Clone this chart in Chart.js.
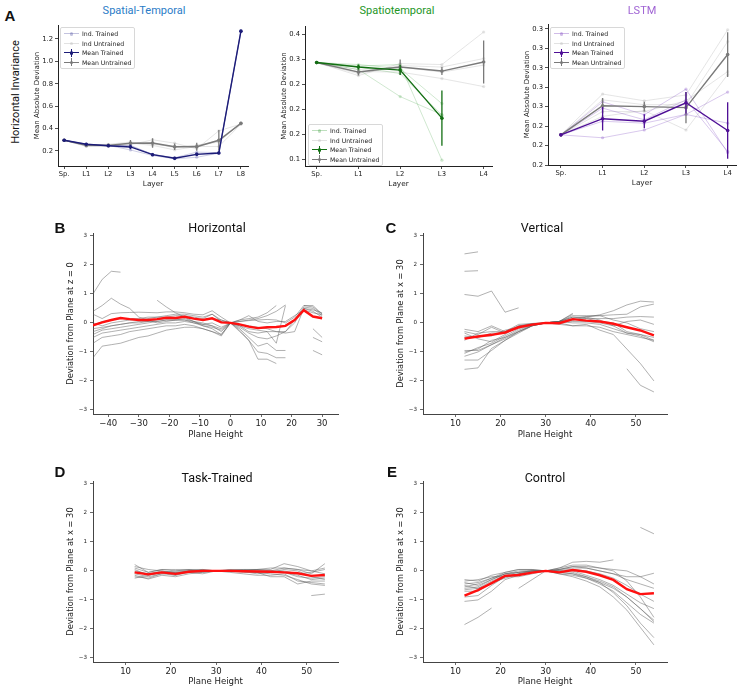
<!DOCTYPE html>
<html>
<head>
<meta charset="utf-8">
<script src="https://cdn.jsdelivr.net/npm/chart.js@4.4.0/dist/chart.umd.min.js"></script>
<style>
  body { margin: 0; background: #fff; }
  #page { position: relative; width: 744px; height: 693px; overflow: hidden; background: #fff; }
  canvas { position: absolute; }
  .txt { position: absolute; white-space: nowrap; transform: translate(-50%, -50%); font-family: Roboto, "DejaVu Sans", sans-serif; color: #111; }
  .letter { font-weight: 700; font-size: 15px; font-family: "Liberation Sans", Roboto, sans-serif; }
  .title { font-size: 12.5px; }
  .legend { position: absolute; border: 1px solid #d8d8d8; border-radius: 2px; background: rgba(255,255,255,0.85); padding: 1px 3px 1px 2px; font-family: "DejaVu Sans", sans-serif; font-size: 6.2px; color: #222; }
  .legend .row { position: relative; height: 9.6px; line-height: 9.6px; padding-left: 19px; }
  .legend .sw { position: absolute; left: 1px; top: 0; width: 15px; height: 9.6px; }
  .legend .ln { position: absolute; left: 0; right: 0; top: 4.3px; height: 0; border-top: 1.3px solid; }
  .legend .dt { position: absolute; left: 5.7px; top: 3px; width: 3.6px; height: 3.6px; border-radius: 50%; }
  .legend .eb { position: absolute; left: 7px; top: 0.5px; width: 0; height: 8px; border-left: 1.3px solid; }
</style>
</head>
<body>
<div id="page">
  <canvas id="a1"></canvas>
  <canvas id="a2"></canvas>
  <canvas id="a3"></canvas>
  <canvas id="pb"></canvas>
  <canvas id="pc"></canvas>
  <canvas id="pd"></canvas>
  <canvas id="pe"></canvas>

  <div class="txt letter" style="left:10px;top:15px;">A</div>
  <div class="txt" style="left:15px;top:92px;font-size:11px;transform:translate(-50%,-50%) rotate(-90deg);">Horizontal Invariance</div>
  <div class="txt title" style="left:144px;top:10px;font-size:11px;color:#2a7cc7;">Spatial-Temporal</div>
  <div class="txt title" style="left:397px;top:10px;font-size:11px;color:#23961f;">Spatiotemporal</div>
  <div class="txt title" style="left:642px;top:10px;font-size:11px;color:#a064d4;">LSTM</div>

  <div class="txt letter" style="left:60px;top:227px;">B</div>
  <div class="txt title" style="left:217px;top:227px;">Horizontal</div>
  <div class="txt letter" style="left:391px;top:227px;">C</div>
  <div class="txt title" style="left:542px;top:227px;">Vertical</div>
  <div class="txt letter" style="left:60px;top:471px;">D</div>
  <div class="txt title" style="left:217px;top:477px;">Task-Trained</div>
  <div class="txt letter" style="left:392px;top:471px;">E</div>
  <div class="txt title" style="left:545px;top:477px;">Control</div>
</div>
<script>
const _ = null;

// ---------- panel A: layer-wise mean absolute deviation ----------
const layersLong = ["Sp.", "L1", "L2", "L3", "L4", "L5", "L6", "L7", "L8"];
const layersShort = ["Sp.", "L1", "L2", "L3", "L4"];

// Spatial-Temporal
const stMeanTrained = [0.296, 0.26, 0.247, 0.236, 0.167, 0.135, 0.17, 0.182, 1.27];
const stErrTrained = [_, 0.01, 0.01, 0.02, 0.01, 0.01, 0.015, 0.008, _];
const stMeanUntrained = [0.296, 0.25, 0.25, 0.269, 0.271, 0.238, 0.238, 0.296, 0.447];
const stErrUntrained = [_, 0.012, 0.015, 0.03, 0.042, 0.03, 0.035, 0.092, _];
const stIndTrained = [
  [0.296, 0.255, 0.25, 0.209, 0.16, 0.13, 0.144, 0.18, 1.27],
  [0.296, 0.262, 0.245, 0.245, 0.17, 0.14, 0.19, 0.185, 1.27],
  [0.296, 0.26, 0.25, 0.25, 0.17, 0.135, 0.175, 0.18, 1.27],
];
const stIndUntrained = [
  [0.296, 0.24, 0.245, 0.255, 0.3, 0.27, 0.22, 0.38, 0.44],
  [0.296, 0.255, 0.26, 0.28, 0.26, 0.24, 0.25, 0.28, 0.45],
  [0.296, 0.25, 0.255, 0.27, 0.25, 0.21, 0.24, 0.24, 0.44],
  [0.296, 0.245, 0.24, 0.27, 0.27, 0.23, 0.25, 0.29, 0.45],
];
const stYTicks = [0.2, 0.4, 0.6, 0.8, 1.0, 1.2];
const stYLabels = ["0.2", "0.4", "0.6", "0.8", "1.0", "1.2"];

// Spatiotemporal
const spMeanTrained = [0.294, 0.285, 0.279, 0.183];
const spErrTrained = [_, 0.005, 0.01, 0.055];
const spMeanUntrained = [0.294, 0.275, 0.285, 0.277, 0.295];
const spErrUntrained = [_, 0.007, 0.015, 0.008, 0.043];
const spIndTrained = [
  [0.294, 0.29, 0.282, 0.212],
  [0.294, 0.285, 0.272, 0.189],
  [0.294, 0.28, 0.226, 0.19],
  [0.294, 0.287, 0.29, 0.099],
];
const spIndUntrained = [
  [0.294, 0.268, 0.292, 0.29, 0.355],
  [0.294, 0.272, 0.288, 0.285, 0.302],
  [0.294, 0.28, 0.285, 0.275, 0.289],
  [0.294, 0.276, 0.275, 0.262, 0.246],
];
const spYTicks = [0.10, 0.15, 0.20, 0.25, 0.30, 0.35];
const spYLabels = ["0.1", "0.2", "0.2", "0.2", "0.3", "0.4"];

// LSTM
const lsMeanTrained = [0.231, 0.2476, 0.245, 0.264, 0.2355];
const lsErrTrained = [_, 0.012, 0.0072, 0.011, 0.029];
const lsMeanUntrained = [0.231, 0.261, 0.26, 0.259, 0.3136];
const lsErrUntrained = [_, 0.008, 0.005, 0.016, 0.023];
const lsIndTrained = [
  [0.231, 0.265, 0.2517, 0.278, 0.2126],
  [0.231, 0.2585, 0.2465, 0.267, 0.214],
  [0.231, 0.245, 0.243, 0.252, 0.275],
  [0.231, 0.228, 0.236, 0.252, 0.243],
];
const lsIndUntrained = [
  [0.231, 0.273, 0.266, 0.272, 0.339],
  [0.231, 0.267, 0.262, 0.262, 0.327],
  [0.231, 0.255, 0.255, 0.266, 0.296],
  [0.231, 0.25, 0.256, 0.236, 0.293],
];
const lsYTicks = [0.20, 0.22, 0.24, 0.26, 0.28, 0.30, 0.32, 0.34];
const lsYLabels = ["0.2", "0.2", "0.2", "0.3", "0.3", "0.3", "0.3", "0.3"];

// ---------- panels B-E: deviation from reference plane ----------
const devTicks = [-3, -2, -1, 0, 1, 2, 3];

const hHeights = [-45, -42, -39, -36, -33, -30, -27, -24, -21, -18, -15, -12, -9, -6, -3, 0, 3, 6, 9, 12, 15, 18, 21, 24, 27, 30];
const hXTicks = [-40, -30, -20, -10, 0, 10, 20, 30];
const hMean = [-0.08, 0.02, 0.1, 0.17, 0.13, 0.1, 0.1, 0.13, 0.18, 0.17, 0.21, 0.15, 0.1, 0.16, 0.02, 0, -0.05, -0.13, -0.18, -0.15, -0.14, -0.1, 0.1, 0.44, 0.22, 0.16];
const hLines = [
  [1.0, 1.5, 1.78, 1.75, _, _, _, _, _, _, _, _, _, _, _, _, _, _, _, _, _, _, _, _, _, _],
  [0.3, 0.15, 0.32, 0.35, 0.36, 0.37, 0.36, 0.35, 0.38, 0.38, 0.35, 0.3, 0.28, 0.42, 0.2, 0, 0.05, 0.08, 0.1, 0.12, 0.1, 0.0, 0.2, 0.6, 0.6, 0.3],
  [0.4, 0.6, 0.85, 0.65, 0.5, 0.2, 0.1, 0.0, 0.05, 0.1, 0.15, 0.05, -0.05, 0.0, -0.15, 0, 0.1, 0.25, 0.05, 0.0, 0.05, 0.05, 0.25, 0.45, 0.35, 0.28],
  [_, _, _, _, _, _, _, 0.78, 0.55, 0.35, 0.2, 0.05, -0.1, -0.2, -0.4, 0, -0.3, -0.6, -1.25, -1.25, -1.4, _, _, _, _, _],
  [-1.2, -0.8, -0.75, -0.7, -0.6, -0.5, -0.45, -0.35, -0.25, -0.2, -0.15, -0.15, -0.2, -0.3, -0.4, 0, -0.2, -0.5, -0.8, -0.7, -0.95, -0.95, _, _, _, _],
  [-0.7, -0.5, -0.45, -0.4, -0.3, -0.25, -0.2, -0.15, -0.1, -0.1, -0.05, -0.1, -0.2, -0.3, -0.45, 0, -0.25, -0.6, -1.0, -1.05, -1.2, -1.2, _, _, _, _],
  [-0.4, -0.25, -0.2, -0.15, -0.1, -0.05, 0, 0.05, 0.1, 0.1, 0.1, 0.05, 0, -0.1, -0.2, 0, 0.1, 0.15, 0.2, 0.35, 0.6, _, _, _, _, _],
  [-0.2, -0.15, -0.1, -0.05, 0, 0.05, 0.05, 0.1, 0.15, 0.15, 0.2, 0.15, 0.1, 0.15, 0.1, 0, 0.05, 0.1, 0.15, 0.25, 0.4, 0.62, _, _, _, _],
  [0.0, -0.1, 0, 0.05, 0.1, 0.1, 0.15, 0.2, 0.2, 0.25, 0.25, 0.2, 0.15, 0.3, 0.1, 0, -0.05, -0.1, -0.15, -0.2, -0.3, -0.35, -0.3, 0.5, 0.45, 0.35],
  [-0.1, 0.05, 0.1, 0.15, 0.15, 0.15, 0.2, 0.2, 0.25, 0.3, 0.3, 0.25, 0.2, 0.3, 0.05, 0, -0.1, -0.2, -0.25, -0.3, -0.7, 0.6, _, 0.6, 0.55, 0.3],
  [-0.3, -0.2, -0.1, -0.05, 0.0, 0.0, 0.05, 0.05, 0.1, 0.1, 0.1, 0.0, -0.05, -0.1, -0.3, 0, -0.1, -0.3, -0.35, -0.3, -0.3, -0.3, 0.0, 0.5, 0.4, 0.2],
  [-0.5, -0.35, -0.3, -0.25, -0.2, -0.15, -0.1, -0.05, 0.0, 0.0, 0.05, 0.0, -0.1, -0.15, -0.25, 0, -0.15, -0.35, -0.5, -0.55, -0.45, -0.3, 0.1, 0.55, 0.5, 0.25],
  [_, _, _, _, _, _, _, _, _, _, _, _, _, _, _, _, _, _, _, _, _, _, _, _, -0.2, -0.5],
  [_, _, _, _, _, _, _, _, _, _, _, _, _, _, _, _, _, _, _, _, _, _, _, _, -0.5, -0.65],
  [_, _, _, _, _, _, _, _, _, _, _, _, _, _, _, _, _, _, _, _, _, _, _, _, -0.95, -1.1],
];

const vHeights = [12, 15, 18, 21, 24, 27, 30, 33, 36, 39, 42, 45, 48, 51, 54];
const vXTicks = [10, 20, 30, 40, 50];

const vMean = [-0.54, -0.47, -0.41, -0.33, -0.15, -0.06, 0, -0.01, 0.13, 0.08, 0.05, -0.03, -0.15, -0.26, -0.43];
const vLines = [
  [2.38, 2.45, _, _, _, _, _, _, _, _, _, _, _, _, _],
  [1.78, 1.8, _, _, _, _, _, _, _, _, _, _, _, _, _],
  [0.98, 0.92, 1.1, 0.37, 0.52, _, _, _, _, _, _, _, _, _, _],
  [-0.22, -0.3, -0.1, -0.3, -0.1, -0.05, 0, 0.05, 0.1, 0.2, 0.28, 0.42, 0.62, 0.75, 0.72],
  [-0.3, -0.4, -0.15, -0.35, -0.12, -0.05, 0, 0.05, 0.15, 0.22, 0.25, 0.28, 0.3, 0.55, 0.65],
  [-1.6, -1.55, -0.88, -0.6, -0.3, -0.1, 0, 0.0, -0.1, -0.05, -0.25, -0.4, -0.9, -1.4, -2.0],
  [_, _, _, _, _, _, _, _, _, _, _, _, -1.58, -2.15, -2.38],
  [-1.28, -1.28, -0.95, -0.6, -0.35, -0.1, 0, 0.05, 0.2, 0.2, 0.1, -0.1, -0.35, -0.45, -0.65],
  [-1.05, -0.85, -0.7, -0.45, -0.2, -0.08, 0, 0.05, 0.33, _, _, _, _, _, _],
  [-0.95, -0.95, -0.75, -0.5, -0.3, -0.1, 0, 0.05, 0.3, _, _, _, _, _, _],
  [-1.0, -0.9, -0.6, -0.5, -0.25, -0.08, 0, 0.05, 0.2, 0.15, 0.05, 0.0, -0.3, -0.4, -0.6],
  [-0.45, -0.5, -0.35, -0.35, -0.15, -0.05, 0, 0.0, 0.1, 0.15, 0.15, 0.15, 0.2, 0.22, 0.2],
  [-0.6, -0.35, -0.3, -0.3, -0.05, -0.02, 0, -0.05, -0.1, -0.1, -0.15, -0.3, -0.4, -0.5, -0.6],
  [-0.35, -0.55, -0.65, -0.4, -0.1, -0.02, 0, 0.02, 0.05, 0.05, 0.0, -0.1, 0.05, 0.1, -0.05],
  [-1.15, -1.0, -0.75, -0.55, -0.3, -0.1, 0, 0.05, 0.0, 0.0, -0.05, -0.2, -0.35, -0.4, -0.5],
  [-0.5, -0.45, -0.45, -0.25, -0.15, -0.05, 0, 0.05, 0.25, 0.25, 0.25, 0.1, 0.0, -0.2, -0.3],
];

const tMean = [-0.05, -0.12, -0.05, -0.1, -0.03, 0, 0, 0, -0.01, -0.02, -0.03, -0.05, -0.08, -0.17, -0.14];
const tLines = [
  [0.22, -0.05, 0.05, 0.05, 0.05, 0.05, 0, 0.02, 0.05, 0.05, 0.1, 0.1, 0.05, -0.1, 0.25],
  [0.15, 0.05, 0.0, -0.05, 0.0, 0.02, 0, 0.0, 0.0, 0.05, 0.05, 0.25, 0.15, 0.0, 0.1],
  [-0.2, -0.25, -0.1, -0.15, -0.05, -0.1, 0, -0.05, -0.1, -0.15, -0.15, -0.1, -0.35, -0.4, -0.45],
  [-0.15, -0.28, -0.15, -0.2, -0.1, -0.05, 0, 0.02, 0.0, -0.05, -0.1, -0.15, -0.3, -0.45, -0.5],
  [0.05, -0.15, -0.05, 0.0, 0.02, 0.0, 0, 0.03, 0.02, 0.0, -0.05, 0.05, 0.0, -0.2, -0.3],
  [-0.05, -0.1, 0.0, -0.1, 0.0, 0.05, 0, 0.0, -0.02, -0.1, -0.05, -0.05, -0.2, -0.25, -0.2],
  [0.1, -0.05, 0.05, 0.0, 0.05, 0.0, 0, 0.05, 0.05, 0.05, 0.0, 0.0, -0.1, -0.05, 0.05],
  [-0.1, -0.2, -0.1, -0.05, -0.05, -0.05, 0, 0.0, -0.05, -0.05, -0.2, -0.2, -0.45, -0.35, -0.35],
  [0.0, -0.1, -0.05, -0.15, 0.0, 0.0, 0, 0.02, 0.0, -0.05, 0.0, -0.05, -0.15, -0.3, -0.25],
  [-0.25, -0.15, -0.05, -0.05, -0.02, 0.0, 0, 0.0, 0.02, 0.02, 0.0, 0.1, 0.05, 0.0, -0.1],
  [_, _, _, _, _, _, _, _, _, _, _, _, _, -0.85, -0.8],
];

const cMean = [-0.85, -0.66, -0.42, -0.17, -0.14, -0.06, 0, -0.05, 0.03, -0.03, -0.15, -0.31, -0.63, -0.8, -0.77];
const cLines = [
  [_, _, _, _, _, _, _, _, _, _, _, _, _, 1.5, 1.28],
  [-1.85, -1.6, -1.28, _, _, _, _, _, _, _, _, _, _, _, _],
  [_, _, _, _, -0.6, -0.3, 0, -0.05, -0.1, -0.25, -0.4, -0.6, -0.9, -1.3, -1.75],
  [-0.3, -0.35, -0.15, -0.05, 0.05, 0.05, 0, 0.1, 0.3, 0.33, 0.3, 0.38, _, _, _],
  [-0.4, -0.5, -0.3, -0.1, 0.0, 0.02, 0, 0.05, 0.15, 0.15, 0.1, 0.05, 0.0, -0.2, -0.45],
  [-0.5, -0.6, -0.35, -0.15, -0.05, 0.0, 0, 0.05, 0.1, 0.1, 0.0, -0.1, -0.2, -0.2, -0.08],
  [-0.6, -0.55, -0.3, -0.1, -0.05, 0.0, 0, 0.0, 0.0, -0.15, -0.3, -0.5, -0.8, -1.1, -1.3],
  [-0.7, -0.7, -0.4, -0.25, -0.1, -0.02, 0, -0.05, -0.1, -0.2, -0.35, -0.55, -0.9, -1.3, -1.7],
  [-0.9, -0.85, -0.5, -0.2, -0.1, -0.05, 0, -0.1, -0.15, -0.25, -0.45, -0.7, -1.1, -1.5, -1.8],
  [-1.05, -1.0, -0.7, -0.3, -0.15, -0.05, 0, 0.0, -0.05, -0.2, -0.4, -0.75, -1.2, -1.8, -2.3],
  [-0.45, -0.4, -0.25, -0.05, 0.05, 0.05, 0, 0.1, 0.2, 0.2, 0.1, 0.0, -0.35, -0.9, -1.6],
  [-0.55, -0.45, -0.25, -0.1, -0.05, 0.0, 0, -0.1, -0.2, -0.35, -0.55, -0.9, -1.35, -1.95, -2.55],
  [-0.35, -0.3, -0.2, -0.2, -0.2, -0.1, 0, 0.05, 0.15, 0.1, 0.0, -0.1, -0.3, -0.45, -0.6],
  [-0.65, -0.6, -0.45, -0.2, -0.1, 0.0, 0, 0.02, 0.05, 0.0, -0.1, -0.25, -0.5, -0.8, -1.05],
];

// ---------- helpers ----------
const layerIdx = (arr) => arr.map((_, i) => i);
const pts = (xs, ys) => xs.map((x, i) => ({ x, y: ys[i] === undefined ? null : ys[i] }));

function errPts(xs, ys, errs) {
  const out = [];
  xs.forEach((x, i) => {
    if (errs[i] == null || ys[i] == null) return;
    out.push({ x, y: ys[i] - errs[i] }, { x, y: ys[i] + errs[i] }, { x, y: null });
  });
  return out;
}

function minus(v) {
  return String(v).replace("-", "\u2212");
}

function layerDatasets(meanT, errT, meanU, errU, indT, indU, dark, faint) {
  const ds = [];
  const xsT = layerIdx(meanT);
  const xsU = layerIdx(meanU);
  ds.push({ data: pts(xsT, meanT), borderColor: dark, backgroundColor: dark, borderWidth: 1.4, pointRadius: 1.8, pointBorderWidth: 0, order: 0 });
  ds.push({ data: errPts(xsT, meanT, errT), borderColor: dark, borderWidth: 1.3, pointRadius: 0, order: 0 });
  ds.push({ data: pts(xsU, meanU), borderColor: "#7a7a7a", backgroundColor: "#7a7a7a", borderWidth: 1.4, pointRadius: 1.8, pointBorderWidth: 0, order: 1 });
  ds.push({ data: errPts(xsU, meanU, errU), borderColor: "#7a7a7a", borderWidth: 1.3, pointRadius: 0, order: 1 });
  for (const line of indT) {
    ds.push({ data: pts(layerIdx(line), line), borderColor: faint, backgroundColor: faint, borderWidth: 1, pointRadius: 1.6, pointBorderWidth: 0, order: 4 });
  }
  for (const line of indU) {
    ds.push({ data: pts(layerIdx(line), line), borderColor: "rgba(170,170,170,0.3)", backgroundColor: "rgba(170,170,170,0.3)", borderWidth: 1, pointRadius: 1.6, pointBorderWidth: 0, order: 5 });
  }
  return ds;
}

function planeDatasets(xs, lines, mean) {
  const ds = [{ data: pts(xs, mean), borderColor: "#ff1010", borderWidth: 2.4, pointRadius: 0, order: 0 }];
  for (const line of lines) {
    ds.push({ data: pts(xs, line), borderColor: "rgba(95,95,95,0.55)", borderWidth: 0.9, pointRadius: 0, order: 2 });
  }
  return ds;
}

function axis(a, which, size) {
  return {
    type: "linear",
    min: a.min,
    max: a.max,
    afterBuildTicks: (s) => { s.ticks = a.ticks.map((v) => ({ value: v })); },
    afterFit: (s) => { if (which === "x") s.height = size; else s.width = size; },
    grid: { display: true, drawOnChartArea: false, drawTicks: true, tickLength: 3, color: a.color, tickWidth: 0.8 },
    border: { display: true, color: a.color, width: 1 },
    ticks: {
      autoSkip: false,
      maxRotation: 0,
      padding: a.tickPad,
      color: "#222",
      font: { family: "DejaVu Sans", size: a.tickSize },
      callback: (v, i) => (a.labels ? a.labels[i] : minus(v)),
    },
    title: {
      display: true,
      text: a.title,
      color: "#222",
      font: { family: "DejaVu Sans", size: a.titleSize },
      padding: { top: 2, bottom: 2 },
    },
  };
}

function makePanel(id, box, cfg) {
  const padTop = 8, padRight = 12;
  const cv = document.getElementById(id);
  const w = cfg.yw + (box.r - box.l) + padRight;
  const h = padTop + (box.b - box.t) + cfg.xh;
  cv.width = w;
  cv.height = h;
  cv.style.left = (box.l - cfg.yw) + "px";
  cv.style.top = (box.t - padTop) + "px";
  cv.style.width = w + "px";
  cv.style.height = h + "px";
  return new Chart(cv, {
    type: "line",
    data: { datasets: cfg.datasets },
    options: {
      responsive: false,
      animation: false,
      devicePixelRatio: 1,
      layout: { autoPadding: false, padding: { top: padTop, right: padRight, left: 0, bottom: 0 } },
      plugins: { legend: { display: false }, tooltip: { enabled: false } },
      elements: { line: { tension: 0 } },
      scales: { x: axis(cfg.x, "x", cfg.xh), y: axis(cfg.y, "y", cfg.yw) },
    },
  });
}

function addLegend(left, top, entries) {
  const box = document.createElement("div");
  box.className = "legend";
  box.style.left = left + "px";
  box.style.top = top + "px";
  for (const e of entries) {
    const row = document.createElement("div");
    row.className = "row";
    row.innerHTML =
      `<span class="sw"><i class="ln" style="border-color:${e.color}"></i>` +
      `<i class="dt" style="background:${e.color}"></i>` +
      (e.err ? `<i class="eb" style="border-color:${e.color}"></i>` : "") +
      `</span>${e.label}`;
    box.appendChild(row);
  }
  document.getElementById("page").appendChild(box);
}

// ---------- build panel A ----------
const layerAxisA = (labels, min, max) => ({
  min, max, ticks: layerIdx(labels), labels, color: "#222", tickSize: 6.8, tickPad: 1,
  title: "Layer", titleSize: 7.3,
});
const devAxisA = (ticks, labels, min, max) => ({
  min, max, ticks, labels, color: "#222", tickSize: 6.8, tickPad: 2,
  title: "Mean Absolute Deviation", titleSize: 7,
});

makePanel("a1", { l: 58, t: 25, r: 248, b: 166 }, {
  yw: 27, xh: 24,
  x: layerAxisA(layersLong, -0.28, 8.32),
  y: devAxisA(stYTicks, stYLabels, 0.066, 1.325),
  datasets: layerDatasets(stMeanTrained, stErrTrained, stMeanUntrained, stErrUntrained,
    stIndTrained, stIndUntrained, "#1c1c78", "rgba(40,40,140,0.22)"),
});

makePanel("a2", { l: 305, t: 26, r: 492, b: 166 }, {
  yw: 27, xh: 24,
  x: layerAxisA(layersShort, -0.28, 4.2),
  y: devAxisA(spYTicks, spYLabels, 0.0874, 0.367),
  datasets: layerDatasets(spMeanTrained, spErrTrained, spMeanUntrained, spErrUntrained,
    spIndTrained, spIndUntrained, "#136f13", "rgba(40,150,40,0.22)"),
});

makePanel("a3", { l: 548, t: 24, r: 736, b: 165 }, {
  yw: 27, xh: 24,
  x: layerAxisA(layersShort, -0.31, 4.2),
  y: devAxisA(lsYTicks, lsYLabels, 0.2, 0.345),
  datasets: layerDatasets(lsMeanTrained, lsErrTrained, lsMeanUntrained, lsErrUntrained,
    lsIndTrained, lsIndUntrained, "#4f0f96", "rgba(120,60,190,0.28)"),
});

const legendEntries = (dark, faint) => [
  { label: "Ind. Trained", color: faint },
  { label: "Ind Untrained", color: "rgba(190,190,190,0.45)" },
  { label: "Mean Trained", color: dark, err: true },
  { label: "Mean Untrained", color: "#7a7a7a", err: true },
];
addLegend(60, 27, legendEntries("#1c1c78", "rgba(40,40,140,0.28)"));
addLegend(308, 124, legendEntries("#136f13", "rgba(40,150,40,0.3)"));
addLegend(550, 27, legendEntries("#4f0f96", "rgba(120,60,190,0.35)"));

// ---------- build panels B-E ----------
const heightAxis = (ticks, min, max) => ({
  min, max, ticks, color: "#444", tickSize: 8.5, tickPad: 2,
  title: "Plane Height", titleSize: 8.6,
});
const devAxis = (title) => ({
  min: -3.14, max: 3.1, ticks: devTicks, color: "#444", tickSize: 5.6, tickPad: 3,
  title, titleSize: 8.3,
});

makePanel("pb", { l: 93, t: 233, r: 338, b: 414 }, {
  yw: 29, xh: 28,
  x: heightAxis(hXTicks, -45, 35.2),
  y: devAxis("Deviation from Plane at z = 0"),
  datasets: planeDatasets(hHeights, hLines, hMean),
});

makePanel("pc", { l: 423, t: 233, r: 667, b: 414 }, {
  yw: 29, xh: 28,
  x: heightAxis(vXTicks, 2.8, 56.9),
  y: devAxis("Deviation from Plane at x = 30"),
  datasets: planeDatasets(vHeights, vLines, vMean),
});

makePanel("pd", { l: 93, t: 481, r: 338, b: 662 }, {
  yw: 29, xh: 27,
  x: heightAxis(vXTicks, 2.8, 56.9),
  y: devAxis("Deviation from Plane at x = 30"),
  datasets: planeDatasets(vHeights, tLines, tMean),
});

makePanel("pe", { l: 423, t: 481, r: 667, b: 662 }, {
  yw: 29, xh: 27,
  x: heightAxis(vXTicks, 2.8, 56.9),
  y: devAxis("Deviation from Plane at x = 30"),
  datasets: planeDatasets(vHeights, cLines, cMean),
});
</script>
</body>
</html>
